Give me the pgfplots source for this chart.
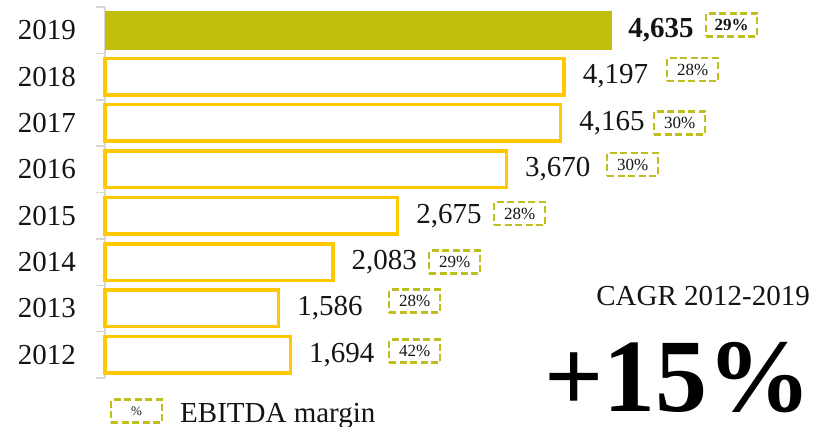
\documentclass[border=0pt]{standalone}
\usepackage{fontspec}
\setmainfont{Liberation Serif}
\usepackage{pgfplots}
\pgfplotsset{compat=1.18}
\definecolor{olivebar}{RGB}{192,192,12}
\definecolor{goldline}{RGB}{255,200,0}
\definecolor{dashol}{RGB}{190,190,30}
\definecolor{axgray}{RGB}{215,215,215}
\definecolor{ink}{RGB}{20,20,20}
\tikzset{pbox/.style={draw=dashol, line width=2.3pt, dash pattern=on 7pt off 3.5pt,
  minimum width=51pt, minimum height=23pt, inner sep=0pt, anchor=west, text=ink,
  font=\fontsize{17}{18}\selectfont}}
\begin{document}
\begin{tikzpicture}
\useasboundingbox (0,0) rectangle (821pt,426pt);
\begin{axis}[at={(105pt,48pt)}, anchor=south west, scale only axis,
  width=716pt, height=371pt, xmin=0, xmax=6545, ymin=-0.5, ymax=7.5,
  axis x line=none, axis y line*=left, clip=false,
  axis line style={axgray, line width=1.5pt},
  ytick={0,...,7}, yticklabels={2012,2013,2014,2015,2016,2017,2018,2019},
  minor ytick={-0.5,0.5,...,7.5}, tick align=outside,
  major tick length=0pt, minor tick length=9pt,
  minor tick style={axgray, line width=1.5pt},
  yticklabel style={font=\fontsize{29}{30}\selectfont, inner sep=0pt, xshift=-29pt, text=ink},
  /pgf/number format/.cd, 1000 sep={,}, assume math mode=true]
  \addplot[xbar, bar shift=0pt, bar width=39pt, fill=olivebar, draw=none,
    nodes near coords, nodes near coords style={font=\bfseries\fontsize{29}{30}\selectfont,
      anchor=west, inner sep=0pt, xshift=16pt, text=ink}]
    coordinates {(4635,7)};
  \addplot[xbar, bar shift=0pt, bar width=36.5pt, fill=white, draw=goldline, line width=3.5pt,
    nodes near coords, nodes near coords style={font=\fontsize{29}{30}\selectfont,
      anchor=west, inner sep=0pt, xshift=17pt, text=ink}]
    coordinates {(1694,0) (1586,1) (2083,2) (2675,3) (3670,4) (4165,5) (4197,6)};
  % EBITDA margin boxes
  \node[pbox] at (axis cs:5484,7.112) {\textbf{29\%}};
  \node[pbox] at (axis cs:5128,6.152) {28\%};
  \node[pbox] at (axis cs:5009,4.999) {30\%};
  \node[pbox] at (axis cs:4580,4.104) {30\%};
  \node[pbox] at (axis cs:3547,3.047) {28\%};
  \node[pbox] at (axis cs:2952,2.001) {29\%};
  \node[pbox] at (axis cs:2587,1.160) {28\%};
  \node[pbox] at (axis cs:2587,0.082) {42\%};
\end{axis}
% legend
\node[pbox, anchor=center, font=\fontsize{13}{14}\selectfont] at (136.5pt,15pt) {\%};
\node[anchor=base west, inner sep=0pt, text=ink, font=\fontsize{29}{30}\selectfont] at (180pt,4pt) {EBITDA margin};
% CAGR
\node[anchor=base east, inner sep=0pt, text=ink, font=\fontsize{29}{30}\selectfont] at (810pt,121pt) {CAGR 2012-2019};
\node[anchor=base east, inner sep=0pt, text=black, font=\bfseries\fontsize{104}{110}\selectfont] at (812pt,15pt) {+15\%};
\end{tikzpicture}
\end{document}
